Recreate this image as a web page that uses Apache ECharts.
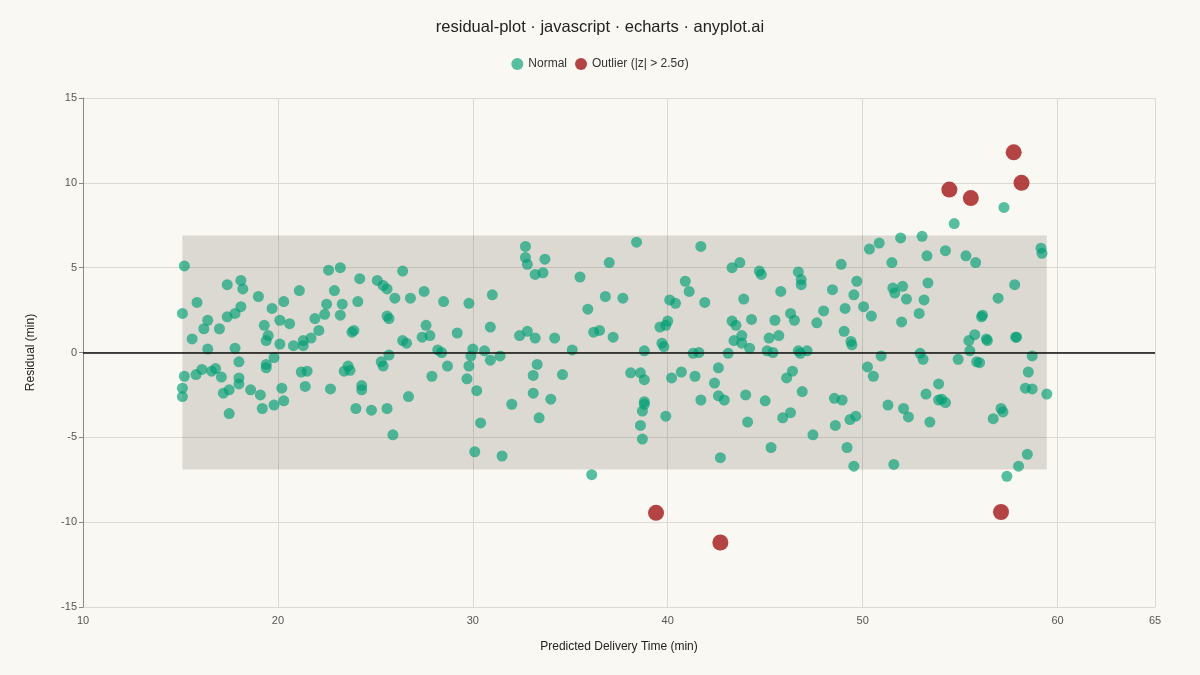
<!DOCTYPE html>
<html>
<head>
<meta charset="utf-8">
<title>residual-plot</title>
<script src="https://cdn.jsdelivr.net/npm/echarts@6/dist/echarts.min.js"></script>
<style>
  html, body { margin: 0; padding: 0; background: #faf8f2; }
  #chart { width: 1200px; height: 675px; }
</style>
</head>
<body>
<div id="chart"></div>
<script>
// predicted delivery time (min) and residual (min)
const normalPredicted = [
  15.2, 15.1, 15.1, 15.1, 15.2, 15.6, 15.85, 15.8, 16.2, 16.1, 16.4, 16.4, 16.6, 16.8, 17.0, 17.1,
  17.2, 17.4, 17.4, 17.5, 17.5, 17.8, 17.8, 18.0, 18.0, 18.1, 18.2, 18.0, 18.1, 18.6, 19.0, 19.1,
  19.2, 19.3, 19.4, 19.4, 19.4, 19.5, 19.7, 19.8, 19.8, 20.1, 20.1, 20.2, 20.3, 20.3, 20.6, 20.8,
  21.1, 21.2, 21.3, 21.3, 21.4, 21.5, 21.7, 21.9, 22.1, 22.4, 22.5, 22.7, 22.6, 22.9, 23.2, 23.2,
  23.3, 23.4, 23.6, 23.7, 23.8, 23.9, 24.0, 24.1, 24.2, 24.3, 24.3, 24.8, 25.1, 25.3, 25.4, 25.4,
  25.6, 25.6, 25.6, 25.7, 25.7, 25.9, 26.0, 26.4, 26.4, 26.6, 26.7, 26.8, 27.4, 27.5, 27.6, 27.8,
  27.9, 28.2, 28.4, 28.5, 28.7, 29.2, 29.7, 29.8, 29.8, 30.0, 29.9, 30.1, 30.2, 30.4, 30.6, 30.9,
  30.9, 31.0, 31.4, 31.5, 32.0, 32.4, 32.7, 32.7, 32.8, 32.8, 33.1, 33.1, 33.2, 33.2, 33.3, 33.4,
  33.6, 33.7, 34.0, 34.2, 34.6, 35.1, 35.5, 35.9, 36.1, 36.2, 36.5, 36.8, 37.0, 37.2, 37.7, 38.1,
  38.4, 38.6, 38.6, 38.7, 38.7, 38.8, 38.8, 38.8, 38.8, 39.6, 39.7, 39.8, 39.9, 40.0, 39.9, 40.1,
  40.2, 40.4, 40.7, 40.9, 41.1, 41.3, 41.4, 41.6, 41.7, 41.7, 41.9, 42.4, 42.6, 42.6, 42.7, 42.9,
  43.1, 43.3, 43.3, 43.5, 43.4, 43.7, 43.8, 43.8, 43.9, 44.1, 44.0, 44.2, 44.3, 44.7, 44.8, 45.0,
  45.1, 45.2, 45.3, 45.4, 45.5, 45.7, 45.8, 45.9, 46.1, 46.3, 46.3, 46.4, 46.5, 46.7, 46.7, 46.8,
  46.85, 46.85, 46.9, 47.15, 47.45, 47.65, 48.0, 48.45, 48.55, 48.6, 48.95, 48.9, 49.05, 49.1, 49.2, 49.35,
  49.4, 49.45, 49.55, 49.55, 49.65, 49.7, 50.05, 50.25, 50.35, 50.45, 50.55, 50.85, 50.95, 51.3, 51.5, 51.55,
  51.65, 51.6, 51.95, 52.0, 52.05, 52.1, 52.25, 52.35, 52.9, 52.95, 53.05, 53.1, 53.15, 53.25, 53.3, 53.35,
  53.45, 53.9, 53.9, 54.05, 54.25, 54.25, 54.7, 54.9, 55.3, 55.45, 55.5, 55.75, 55.8, 55.85, 56.0, 56.1,
  56.15, 56.35, 56.4, 56.7, 56.95, 57.1, 57.2, 57.25, 57.4, 57.8, 57.85, 57.9, 58.0, 58.35, 58.5, 58.45,
  58.7, 58.7, 59.15, 59.2, 59.45
];
const normalResidual = [
  5.1, 2.3, -2.1, -2.6, -1.4, 0.8, 2.95, -1.3, 1.4, -1.0, 1.9, 0.2, -1.1, -0.95, 1.4, -1.45,
  -2.4, 4.0, 2.1, -2.2, -3.6, 2.3, 0.25, -0.55, -1.5, 4.25, 3.75, -1.85, 2.7, -2.2, 3.3, -2.5,
  -3.3, 1.6, 0.7, -0.7, -0.9, 1.0, 2.6, -0.3, -3.1, 1.9, 0.5, -2.1, 3.0, -2.85, 1.7, 0.4,
  3.65, -1.15, 0.4, 0.7, -2.0, -1.1, 0.85, 2.0, 1.3, 2.25, 2.85, -2.15, 4.85, 3.65, 5.0, 2.2,
  2.85, -1.1, -0.8, -1.05, 1.2, 1.3, -3.3, 3.0, 4.35, -1.95, -2.2, -3.4, 4.25, -0.55, 3.95, -0.8,
  3.75, 2.15, -3.3, 2.0, -0.15, -4.85, 3.2, 4.8, 0.7, 0.55, -2.6, 3.2, 0.9, 3.6, 1.6, 1.0,
  -1.4, 0.15, 0.0, 3.0, -0.8, 1.15, -1.55, 2.9, -0.8, 0.2, -0.2, -5.85, -2.25, -4.15, 0.1, 1.5,
  -0.45, 3.4, -0.2, -6.1, -3.05, 1.0, 6.25, 5.6, 5.2, 1.25, -1.35, -2.4, 4.6, 0.85, -0.7, -3.85,
  4.7, 5.5, -2.75, 0.85, -1.3, 0.15, 4.45, 2.55, -7.2, 1.2, 1.3, 3.3, 5.3, 0.9, 3.2, -1.2,
  6.5, -1.2, -4.3, -5.1, -3.45, -1.6, 0.1, -2.9, -3.05, 1.5, 0.55, 0.35, 1.6, 1.85, -3.75, 3.1,
  -1.5, 2.9, -1.15, 4.2, 3.6, -0.05, -1.4, 0.0, -2.8, 6.25, 2.95, -1.8, -0.9, -2.55, -6.2, -2.8,
  -0.05, 5.0, 1.85, 1.6, 0.7, 5.3, 1.0, 0.55, 3.15, -4.1, -2.5, 0.25, 1.95, 4.8, 4.6, -2.85,
  0.1, 0.85, -5.6, 0.0, 1.9, 1.0, 3.6, -3.85, -1.5, -3.55, 2.3, -1.1, 1.9, 4.75, 0.1, -0.05,
  4.3, 4.0, -2.3, 0.1, -4.85, 1.75, 2.45, 3.7, -2.7, -4.3, -2.8, 5.2, 1.25, 2.6, -5.6, -3.95,
  0.65, 0.45, 3.4, -6.7, -3.75, 4.2, 2.7, -0.85, 6.1, 2.15, -1.4, 6.45, -0.2, -3.1, 5.3, 3.8,
  3.5, -6.6, 6.75, 1.8, 3.9, -3.3, 3.15, -3.8, 2.3, -0.05, 6.85, -0.4, 3.1, -2.45, 5.7, 4.1,
  -4.1, -1.85, -2.8, -2.75, -2.95, 6.0, 7.6, -0.4, 5.7, 0.7, 0.1, 1.05, 5.3, -0.55, -0.6, 2.1,
  2.2, 0.8, 0.7, -3.9, 3.2, -3.3, -3.5, 8.55, -7.3, 4.0, 0.9, 0.9, -6.7, -2.1, -1.15, -6.0,
  -0.2, -2.15, 6.15, 5.85, -2.45
];
const outlierPredicted = [39.4, 42.7, 54.45, 55.55, 57.1, 57.75, 58.15];
const outlierResidual = [-9.45, -11.2, 9.6, 9.1, -9.4, 11.8, 10.0];

const xTicks = { min: 10, max: 65, interval: 10 };
const yTicks = { min: -15, max: 15, interval: 5 };
const bandLimit = 6.9; // shaded +/- band around zero

const normalPoints = normalPredicted.map((x, i) => [x, normalResidual[i]]);
const outlierPoints = outlierPredicted.map((x, i) => [x, outlierResidual[i]]);

const allX = normalPredicted.concat(outlierPredicted);
const bandStart = Math.min(...allX);
const bandEnd = Math.max(...allX);

const textFont = '"Liberation Sans", Arial, sans-serif';

const chart = echarts.init(document.getElementById('chart'));
chart.setOption({
  backgroundColor: '#faf8f2',
  textStyle: { fontFamily: textFont },
  title: {
    text: 'residual-plot · javascript · echarts · anyplot.ai',
    left: 'center',
    top: 14,
    textStyle: { fontSize: 16.5, fontWeight: 'normal', color: '#222', fontFamily: textFont }
  },
  legend: {
    top: 53,
    left: 'center',
    itemWidth: 12,
    itemHeight: 12,
    itemGap: 8,
    textStyle: { fontSize: 12, color: '#333' },
    data: [
      { name: 'Normal', icon: 'circle' },
      { name: 'Outlier (|z| > 2.5σ)', icon: 'circle' }
    ]
  },
  grid: { left: 83, right: 45, top: 98, bottom: 68 },
  xAxis: {
    type: 'value',
    min: xTicks.min,
    max: xTicks.max,
    interval: xTicks.interval,
    name: 'Predicted Delivery Time (min)',
    nameLocation: 'middle',
    nameGap: 34,
    nameTextStyle: { fontSize: 12, color: '#222' },
    axisLine: { show: true, lineStyle: { color: '#bbb' } },
    axisTick: { show: false },
    axisLabel: { fontSize: 11, color: '#555', margin: 8 },
    splitLine: { show: true, lineStyle: { color: '#dcd9d2', width: 1 } }
  },
  yAxis: {
    type: 'value',
    min: yTicks.min,
    max: yTicks.max,
    interval: yTicks.interval,
    name: 'Residual (min)',
    nameLocation: 'middle',
    nameGap: 46,
    nameTextStyle: { fontSize: 12, color: '#222' },
    axisLine: { show: true, lineStyle: { color: '#888' } },
    axisTick: { show: true, length: 4, lineStyle: { color: '#888' } },
    axisLabel: { fontSize: 11, color: '#555', margin: 6 },
    splitLine: { show: true, lineStyle: { color: '#dcd9d2', width: 1 } }
  },
  series: [
    {
      name: 'Normal',
      type: 'scatter',
      symbolSize: 11,
      data: normalPoints,
      itemStyle: { color: '#009E73', opacity: 0.65 },
      markArea: {
        silent: true,
        itemStyle: { color: 'rgba(60,55,40,0.16)' },
        data: [[
          { xAxis: bandStart, yAxis: -bandLimit },
          { xAxis: bandEnd, yAxis: bandLimit }
        ]]
      },
      markLine: {
        silent: true,
        symbol: 'none',
        label: { show: false },
        lineStyle: { color: '#111', width: 1.5, type: 'solid' },
        data: [{ yAxis: 0 }]
      }
    },
    {
      name: 'Outlier (|z| > 2.5σ)',
      type: 'scatter',
      symbolSize: 16,
      data: outlierPoints,
      itemStyle: { color: '#AA2A2A', opacity: 0.88 }
    }
  ]
});
window.addEventListener('resize', () => chart.resize());
</script>
</body>
</html>
